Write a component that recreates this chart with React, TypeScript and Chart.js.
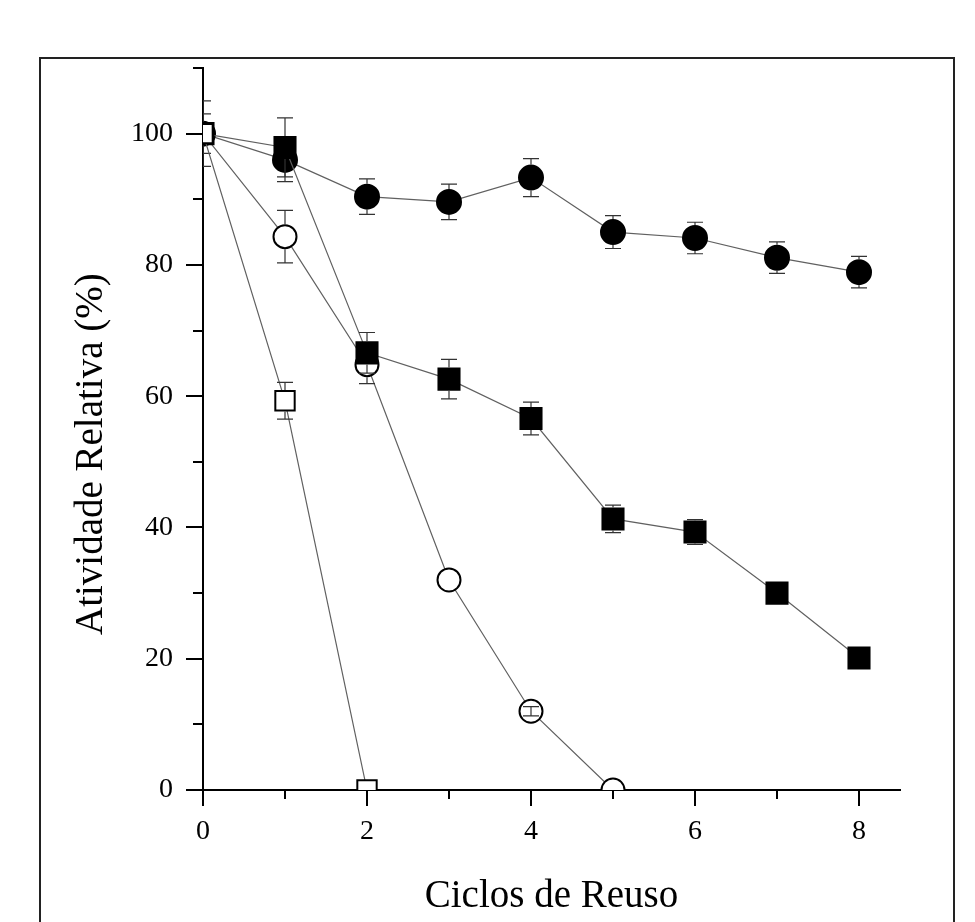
import React, { useEffect, useRef } from 'react';
import { Chart, registerables } from 'chart.js';

Chart.register(...registerables);

// ---- Data ----
const cycles = [0, 1, 2, 3, 4, 5, 6, 7, 8];

const filledCircle = [100, 96.0, 90.4, 89.6, 93.3, 85.0, 84.1, 81.1, 78.9];
const filledCircleErr = [0, 3.3, 2.7, 2.7, 2.9, 2.5, 2.4, 2.4, 2.4];

const filledSquare = [100, 97.9, 66.6, 62.6, 56.6, 41.3, 39.3, 30.0, 20.1];
const filledSquareErr = [5, 4.5, 3.1, 3.0, 2.5, 2.1, 1.9, 0, 0];

const openCircle = [100, 84.3, 64.8, 32.0, 12.0, 0];
const openCircleErr = [3, 4.0, 2.9, 0, 0.7, 0];

const openSquare = [100, 59.3, 0];
const openSquareErr = [0, 2.8, 0];

const xTickLabels = ['0', '2', '4', '6', '8'];
const yTickLabels = ['0', '20', '40', '60', '80', '100'];

const xTitle = 'Ciclos de Reuso';
const yTitle = 'Atividade Relativa (%)';

const FONT = '"Liberation Serif", "Times New Roman", serif';

function toPoints(vals: number[]) {
  return vals.map((v, i) => ({ x: cycles[i], y: v }));
}

export default function App() {
  const ref = useRef<HTMLCanvasElement | null>(null);

  useEffect(() => {
    if (!ref.current) return;

    const radii = [13.7, 14.9, 11.5, 12];
    // per-dataset (in dataset order) error arrays & marker half-extent
    const errs = [openSquareErr, filledSquareErr, openCircleErr, filledCircleErr];
    const halfSize = [0.707 * radii[0] + 1, 0.707 * radii[1] + 1, radii[2] + 1, radii[3] + 1];

    const framePlugin = {
      id: 'frame',
      beforeDraw(chart: any) {
        const ctx = chart.ctx;
        ctx.save();
        ctx.fillStyle = '#ffffff';
        ctx.fillRect(0, 0, chart.width, chart.height);
        ctx.strokeStyle = '#222222';
        ctx.lineWidth = 2;
        ctx.beginPath();
        ctx.moveTo(40, chart.height + 5);
        ctx.lineTo(40, 58);
        ctx.lineTo(954, 58);
        ctx.lineTo(954, chart.height + 5);
        ctx.stroke();
        ctx.restore();
      },
    };

    const tickPlugin = {
      id: 'tickMarks',
      afterDraw(chart: any) {
        const ctx = chart.ctx;
        const { x, y } = chart.scales;
        const area = chart.chartArea;
        ctx.save();
        ctx.strokeStyle = '#000';
        ctx.lineWidth = 2;
        ctx.beginPath();
        x.ticks.forEach((t: any) => {
          const px = Math.round(x.getPixelForValue(t.value));
          const len = t.value % 2 === 0 ? 16 : 9;
          ctx.moveTo(px, area.bottom);
          ctx.lineTo(px, area.bottom + len);
        });
        y.ticks.forEach((t: any) => {
          const py = Math.round(y.getPixelForValue(t.value));
          const len = t.value % 20 === 0 ? 17 : 10;
          ctx.moveTo(area.left, py);
          ctx.lineTo(area.left - len, py);
        });
        ctx.stroke();
        ctx.restore();
      },
    };

    const errorPlugin = {
      id: 'errorBars',
      afterDatasetDraw(chart: any, args: any) {
        const idx = args.index;
        const meta = args.meta;
        const e = errs[idx];
        if (!e) return;
        const ctx = chart.ctx;
        const area = chart.chartArea;
        const yScale = chart.scales.y;
        const hs = halfSize[idx];
        ctx.save();
        ctx.beginPath();
        ctx.rect(area.left, area.top, area.right - area.left, area.bottom - area.top);
        ctx.clip();
        ctx.strokeStyle = '#333';
        ctx.lineWidth = 1.2;
        meta.data.forEach((pt: any, i: number) => {
          const err = e[i];
          if (!err) return;
          const v = meta._parsed[i].y;
          const cx = pt.x;
          const cy = pt.y;
          const top = yScale.getPixelForValue(v + err);
          const bot = yScale.getPixelForValue(v - err);
          const d = cy - top;
          ctx.beginPath();
          if (d > hs) {
            ctx.moveTo(cx, cy - hs);
            ctx.lineTo(cx, top);
            ctx.moveTo(cx, cy + hs);
            ctx.lineTo(cx, bot);
          } else {
            ctx.moveTo(cx, top);
            ctx.lineTo(cx, bot);
          }
          ctx.moveTo(cx - 8, top);
          ctx.lineTo(cx + 8, top);
          ctx.moveTo(cx - 8, bot);
          ctx.lineTo(cx + 8, bot);
          ctx.stroke();
        });
        ctx.restore();
      },
    };

    const titlePlugin = {
      id: 'axisTitles',
      afterDraw(chart: any) {
        const ctx = chart.ctx;
        const area = chart.chartArea;
        ctx.save();
        ctx.fillStyle = '#000';
        ctx.font = `39px ${FONT}`;
        ctx.textBaseline = 'alphabetic';
        ctx.textAlign = 'center';
        ctx.fillText(xTitle, (area.left + area.right) / 2, area.bottom + 117);
        ctx.translate(area.left - 101, area.bottom - 155);
        ctx.rotate(-Math.PI / 2);
        ctx.textAlign = 'left';
        ctx.fillText(yTitle, 0, 0);
        ctx.restore();
      },
    };

    const lineColor = '#606060';
    const common = {
      borderColor: lineColor,
      borderWidth: 1.2,
      pointBorderColor: '#000000',
      pointBorderWidth: 2,
      pointHoverRadius: 0,
      clip: 0,
      tension: 0,
    };

    const chart = new Chart(ref.current, {
      type: 'line',
      data: {
        datasets: [
          {
            ...common,
            label: 'open square',
            data: toPoints(openSquare),
            pointStyle: 'rect',
            pointRadius: radii[0],
            pointBackgroundColor: '#ffffff',
          },
          {
            ...common,
            label: 'filled square',
            data: toPoints(filledSquare),
            pointStyle: 'rect',
            pointRadius: radii[1],
            pointBackgroundColor: '#000000',
          },
          {
            ...common,
            label: 'open circle',
            data: toPoints(openCircle),
            pointStyle: 'circle',
            pointRadius: radii[2],
            pointBackgroundColor: '#ffffff',
          },
          {
            ...common,
            label: 'filled circle',
            data: toPoints(filledCircle),
            pointStyle: 'circle',
            pointRadius: radii[3],
            pointBackgroundColor: '#000000',
          },
        ] as any,
      },
      options: {
        responsive: false,
        animation: false,
        events: [],
        layout: { padding: { left: 0, top: 68, right: 75, bottom: 0 } },
        plugins: {
          legend: { display: false },
          tooltip: { enabled: false },
        },
        scales: {
          x: {
            type: 'linear',
            min: 0,
            max: 8.5,
            grid: { display: false, drawTicks: false },
            border: { display: true, color: '#000', width: 2 },
            ticks: {
              stepSize: 1,
              includeBounds: false,
              autoSkip: false,
              maxRotation: 0,
              padding: 25,
              color: '#000',
              font: { family: FONT, size: 28 },
              callback: (v: any) => {
                const s = String(v);
                return xTickLabels.includes(s) ? s : '';
              },
            },
            afterFit: (s: any) => {
              s.height = 132;
            },
          },
          y: {
            type: 'linear',
            min: 0,
            max: 110,
            grid: { display: false, drawTicks: false },
            border: { display: true, color: '#000', width: 2 },
            ticks: {
              stepSize: 10,
              includeBounds: false,
              autoSkip: false,
              padding: 30,
              color: '#000',
              font: { family: FONT, size: 28 },
              callback: (v: any) => {
                const s = String(v);
                return yTickLabels.includes(s) ? s : '';
              },
            },
            afterFit: (s: any) => {
              s.width = 203;
            },
          },
        },
      } as any,
      plugins: [framePlugin, errorPlugin, tickPlugin, titlePlugin],
    });

    return () => chart.destroy();
  }, []);

  return (
    <div style={{ position: 'fixed', left: 0, top: 0, width: 975, height: 922, background: '#fff' }}>
      <canvas ref={ref} width={975} height={922} style={{ display: 'block', width: 975, height: 922 }} />
    </div>
  );
}
